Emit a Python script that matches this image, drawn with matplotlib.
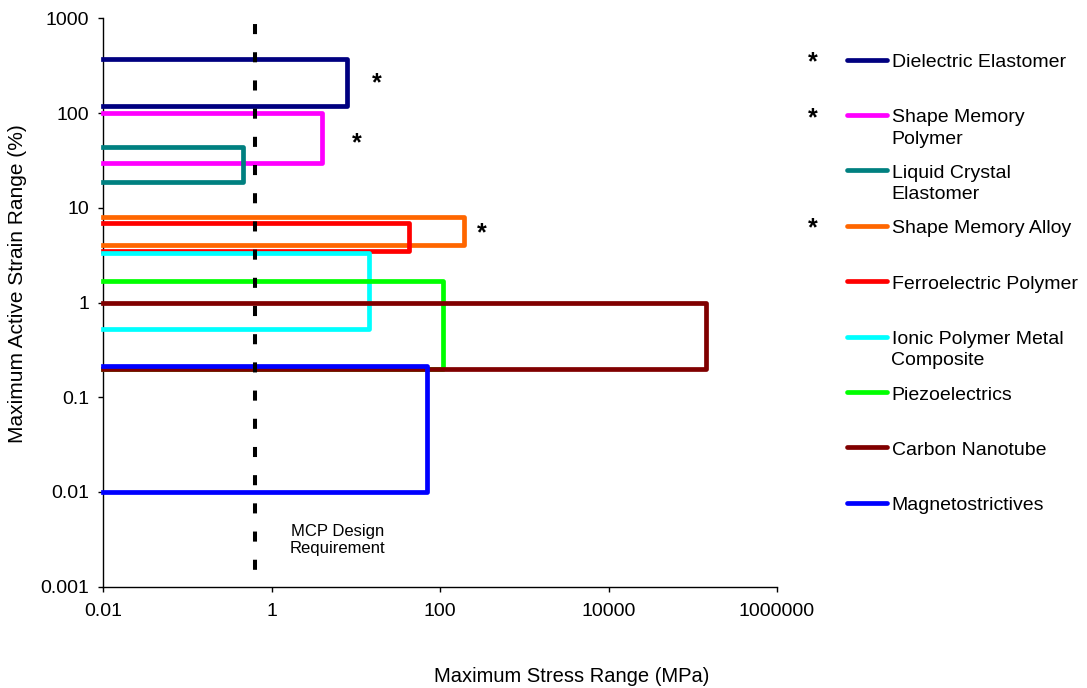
import matplotlib
matplotlib.use("Agg")
import matplotlib.pyplot as plt
from matplotlib.lines import Line2D
from matplotlib.ticker import FixedLocator, FixedFormatter, NullLocator

plt.rcParams['font.family'] = ['Liberation Sans', 'DejaVu Sans']

# material actuator ranges: stress (MPa) max, strain (%) top and bottom
materials = ["Dielectric Elastomer", "Shape Memory\nPolymer", "Liquid Crystal\nElastomer",
             "Shape Memory Alloy", "Ferroelectric Polymer", "Ionic Polymer Metal\nComposite",
             "Piezoelectrics", "Carbon Nanotube", "Magnetostrictives"]
stress_max = [7.8, 4.0, 0.45, 190, 43, 14.3, 109, 142000, 69]
strain_top = [369, 100, 44, 7.9, 6.95, 3.35, 1.68, 1.0, 0.215]
strain_bot = [120, 29.5, 18.8, 4.0, 3.5, 0.52, 0.2, 0.2, 0.01]
starred = [True, True, False, True, False, False, False, False, False]
colors = ["#000080", "#FF00FF", "#008080", "#FF6600", "#FF0000",
          "#00FFFF", "#00FF00", "#800000", "#0000FF"]
stress_min = 0.01
mcp_requirement = 0.63

x_ticks = [0.01, 1, 100, 10000, 1000000]
x_labels = ["0.01", "1", "100", "10000", "1000000"]
y_ticks = [0.001, 0.01, 0.1, 1, 10, 100, 1000]
y_labels = ["0.001", "0.01", "0.1", "1", "10", "100", "1000"]

W, H = 1087, 688
fig = plt.figure(figsize=(W / 100, H / 100), dpi=100)


def px(x, y):
    return x / W, 1 - y / H


ax = fig.add_axes([103.3 / W, 1 - 586.7 / H, (776.9 - 103.3) / W, (586.7 - 18.3) / H])
ax.set_xscale('log')
ax.set_yscale('log')
ax.set_xlim(0.01, 1e6)
ax.set_ylim(0.001, 1000)

for xr, yt, yb, c in zip(stress_max, strain_top, strain_bot, colors):
    ax.plot([stress_min, xr, xr, stress_min], [yt, yt, yb, yb], color=c, lw=3.4,
            solid_joinstyle='round', clip_on=False, zorder=3)

ax.plot([mcp_requirement, mcp_requirement], [1000, 0.001], color='black', lw=2.9,
        ls=(5.5, (2.5, 4.5)), zorder=4)
ax.text(6.1, 0.0031, "MCP Design\nRequirement", ha='center', va='center', fontsize=12)

for s in ['top', 'right']:
    ax.spines[s].set_visible(False)
for s in ['left', 'bottom']:
    ax.spines[s].set_linewidth(1.0)

ax.xaxis.set_major_locator(FixedLocator(x_ticks))
ax.xaxis.set_major_formatter(FixedFormatter(x_labels))
ax.yaxis.set_major_locator(FixedLocator(y_ticks))
ax.yaxis.set_major_formatter(FixedFormatter(y_labels))
ax.xaxis.set_minor_locator(NullLocator())
ax.yaxis.set_minor_locator(NullLocator())
ax.tick_params(axis='both', direction='out', length=3.6, width=1, labelsize=14)
ax.tick_params(axis='x', pad=8)
ax.tick_params(axis='y', pad=6.5)

fig.text(*px(572, 677), "Maximum Stress Range (MPa)", ha='center', va='center', fontsize=14.5)
fig.text(*px(18, 284), "Maximum Active Strain Range (%)", ha='center', va='center',
         rotation=90, fontsize=15)

# asterisks next to the starred boxes
for (x, y) in [(377, 80), (357, 140), (482, 230)]:
    fig.text(*px(x, y + 10), "*", ha='center', va='baseline', fontsize=18, fontweight='bold')

# legend drawn by hand to match the original spacing
y0, dy = 59.5, 55.4
for i, (name, c, st) in enumerate(zip(materials, colors, starred)):
    ly = y0 + i * dy
    fig.add_artist(Line2D([847 / W, 887 / W], [1 - ly / H, 1 - ly / H], color=c, lw=3.4,
                          solid_capstyle='round', transform=fig.transFigure))
    for j, part in enumerate(name.split("\n")):
        fig.text(*px(891.5, ly + 7.6 + 21 * j), part, ha='left', va='baseline', fontsize=14)
    if st:
        fig.text(*px(813, ly + 10), "*", ha='center', va='baseline', fontsize=18, fontweight='bold')

fig.savefig("out.png", dpi=100)
